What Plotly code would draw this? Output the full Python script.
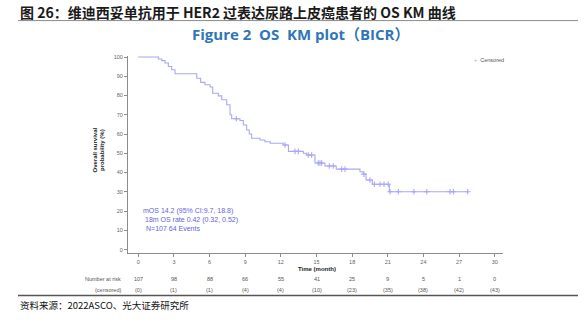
import numpy as np
import plotly.graph_objects as go

# Kaplan-Meier step curve: event times (months) and survival (%) after each step
step_time = [0, 1.69, 1.97, 2.25, 2.53, 2.81, 3.09, 4.92, 5.25, 5.61, 6.04, 6.26,
             6.73, 7.02, 7.44, 7.72, 7.86, 8.56, 8.84, 9.12, 9.34, 9.54, 10.24,
             10.66, 11.1, 12.2, 12.64, 13.89, 14.17, 14.87, 15.71, 16.66, 18.66,
             18.94, 19.17, 19.7, 21.13, 27.75]
step_surv = [100, 99.0, 98.1, 96.9, 95.1, 93.4, 91.3, 89.0, 86.8, 85.6, 84.4, 81.2,
             79.8, 77.8, 75.2, 70.0, 67.9, 67.0, 64.7, 62.1, 60.0, 57.8, 56.9,
             56.0, 55.2, 54.3, 51.0, 50.0, 49.1, 45.0, 43.4, 41.8, 40.4,
             39.2, 36.1, 33.9, 30.0, 30.0]

# Censoring times (months)
censor_time = [8.25, 12.35, 13.19, 13.47, 14.31, 14.59, 15.15, 15.29, 15.43, 16.08,
               16.41, 17.12, 17.4, 18.99, 19.5, 19.87, 20.35, 20.68, 21.04, 21.19,
               21.89, 23.2, 24.28, 26.24, 26.52, 27.73]

# Number at risk table
risk_time = [0, 3, 6, 9, 12, 15, 18, 21, 24, 27, 30]
at_risk = [107, 98, 88, 66, 55, 41, 25, 9, 5, 1, 0]
censored_cum = [0, 1, 1, 4, 4, 10, 23, 35, 38, 42, 43]

x_ticks = list(range(0, 31, 3))
y_ticks = list(range(0, 101, 10))

title_cn = "图 26：维迪西妥单抗用于 HER2 过表达尿路上皮癌患者的 OS KM 曲线"
subtitle = "Figure 2  OS  KM plot（BICR）"
source = "资料来源：2022ASCO、光大证券研究所"
stats_lines = ["mOS 14.2 (95% CI:9.7, 18.8)",
               "18m OS rate 0.42 (0.32, 0.52)",
               "N=107 64 Events"]

W, H = 585, 325
PL, PR, PT, PB = 128, 503, 56.3, 252.7  # plot-area edges in pixels

def px_x(x):
    return (x - PL) / (PR - PL)

def px_y(y):
    return (PB - y) / (PB - PT)

CURVE = "#a8a8f5"
TEXTBLUE = "#6464dc"
AXIS = "#8c8c8c"
LAT = "Liberation Sans, Arial, sans-serif"
CJK = "Noto Sans CJK SC, sans-serif"

# survival value at each censoring time, taken from the step function
st = np.array(step_time)
ss = np.array(step_surv)
censor_surv = ss[np.searchsorted(st, np.array(censor_time), side="right") - 1]

fig = go.Figure()
fig.add_trace(go.Scatter(x=step_time, y=step_surv, mode="lines",
                         line=dict(color=CURVE, width=1.1, shape="hv"),
                         showlegend=False, hoverinfo="skip"))
fig.add_trace(go.Scatter(x=censor_time, y=censor_surv, mode="markers",
                         marker=dict(symbol="cross-thin", size=4,
                                     line=dict(color=CURVE, width=1.1)),
                         name="Censored", showlegend=False))

ann = []
# header
ann.append(dict(text="<b>" + title_cn + "</b>", x=px_x(18), y=px_y(12), xref="paper",
                yref="paper", xanchor="left", yanchor="middle", showarrow=False,
                font=dict(family=CJK, size=14, color="#1a1a1a")))
ann.append(dict(text="<b>" + subtitle + "</b>", x=px_x(300), y=px_y(34), xref="paper",
                yref="paper", xanchor="center", yanchor="middle", showarrow=False,
                font=dict(family="Open Sans, " + CJK, size=15, color="#2f76b8")))
ann.append(dict(text=source, x=px_x(18), y=px_y(305), xref="paper", yref="paper",
                xanchor="left", yanchor="middle", showarrow=False,
                font=dict(family=CJK, size=9.5, color="#111111")))
# legend
ann.append(dict(text='<span style="color:%s">+</span>  Censored' % CURVE,
                x=px_x(472), y=px_y(60), xref="paper", yref="paper",
                xanchor="left", yanchor="middle", showarrow=False,
                font=dict(family=LAT, size=5.5, color="#555555")))
# statistics box
for i, line in enumerate(stats_lines):
    ann.append(dict(text=line, x=px_x(141 + i * 1.5), y=px_y(211 + i * 8.6), xref="paper",
                    yref="paper", xanchor="left", yanchor="middle", showarrow=False,
                    font=dict(family=LAT, size=7, color=TEXTBLUE)))
# axis titles
ann.append(dict(text="<b>Overall survival<br>probability (%)</b>", x=px_x(98.5),
                y=px_y(150), xref="paper", yref="paper", textangle=-90,
                xanchor="center", yanchor="middle", showarrow=False,
                font=dict(family=LAT, size=6, color="#222222")))
ann.append(dict(text="<b>Time (month)</b>", x=15, y=px_y(269), xref="x", yref="paper",
                xanchor="center", yanchor="middle", showarrow=False,
                font=dict(family=LAT, size=6, color="#222222")))
# at-risk table
ann.append(dict(text="Number at risk", x=px_x(123), y=px_y(279), xref="paper",
                yref="paper", xanchor="right", yanchor="middle", showarrow=False,
                font=dict(family=LAT, size=5.5, color="#555555")))
ann.append(dict(text="(censored)", x=px_x(123), y=px_y(290), xref="paper",
                yref="paper", xanchor="right", yanchor="middle", showarrow=False,
                font=dict(family=LAT, size=5.5, color="#555555")))
for t, n, c in zip(risk_time, at_risk, censored_cum):
    ann.append(dict(text=str(n), x=t, y=px_y(279), xref="x", yref="paper",
                    xanchor="center", yanchor="middle", showarrow=False,
                    font=dict(family=LAT, size=5.5, color="#555555")))
    ann.append(dict(text="(%d)" % c, x=t, y=px_y(290), xref="x", yref="paper",
                    xanchor="center", yanchor="middle", showarrow=False,
                    font=dict(family=LAT, size=5.5, color="#555555")))

shapes = [
    dict(type="line", xref="paper", yref="paper", x0=px_x(18), x1=px_x(578),
         y0=px_y(21), y1=px_y(21), line=dict(color="#8a8a8a", width=1)),
    dict(type="line", xref="paper", yref="paper", x0=px_x(18), x1=px_x(578),
         y0=px_y(295), y1=px_y(295), line=dict(color="#555555", width=1.5)),
]

x0 = (PL - 138.3) / 11.88
x1 = (PR - 138.3) / 11.88
y0 = (249.3 - PB) / 1.92
y1 = (249.3 - PT) / 1.92

fig.update_layout(
    width=W, height=H,
    margin=dict(l=PL, r=W - PR, t=PT, b=H - PB),
    paper_bgcolor="white", plot_bgcolor="white",
    showlegend=False,
    annotations=ann, shapes=shapes,
    xaxis=dict(range=[x0, x1], tickvals=x_ticks, ticks="outside", ticklen=3,
               tickcolor=AXIS, showline=True, linecolor=AXIS, linewidth=1,
               showgrid=False, zeroline=False,
               tickfont=dict(family=LAT, size=5.5, color="#666666")),
    yaxis=dict(range=[y0, y1], tickvals=y_ticks, ticks="outside", ticklen=3,
               tickcolor=AXIS, showline=True, linecolor=AXIS, linewidth=1,
               showgrid=False, zeroline=False,
               tickfont=dict(family=LAT, size=5.5, color="#666666")),
)

fig.write_html("out.html")
